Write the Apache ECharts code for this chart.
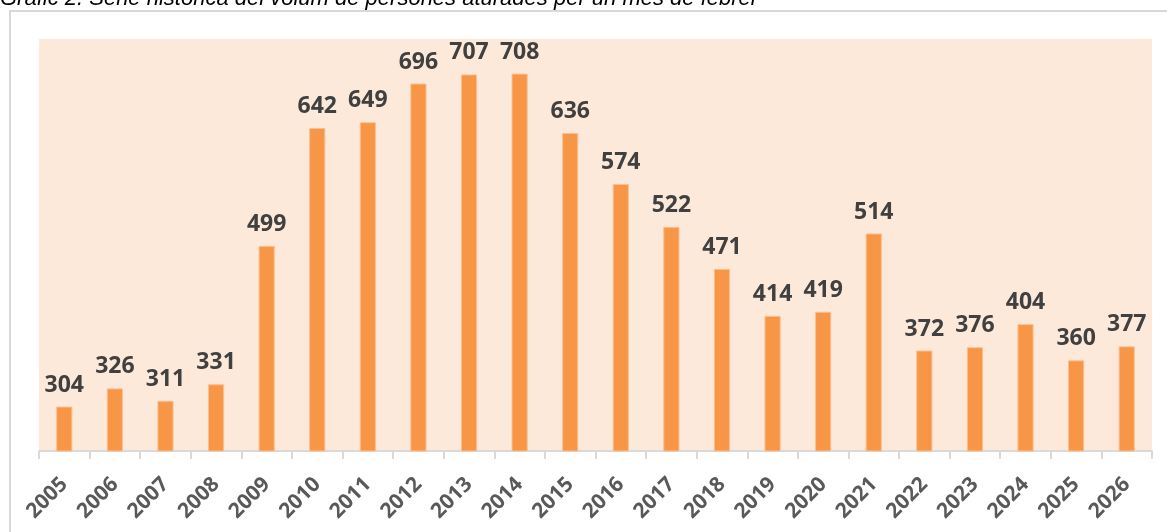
<!DOCTYPE html>
<html>
<head>
<meta charset="utf-8">
<script src="https://cdn.jsdelivr.net/npm/echarts@6/dist/echarts.min.js"></script>
<style>
  html, body { margin: 0; padding: 0; background: #fff; }
  #chart { width: 1167px; height: 532px; }
</style>
</head>
<body>
<div id="chart"></div>
<script>
const years = ['2005', '2006', '2007', '2008', '2009', '2010', '2011', '2012', '2013', '2014', '2015',
  '2016', '2017', '2018', '2019', '2020', '2021', '2022', '2023', '2024', '2025', '2026'];
const aturats = [304, 326, 311, 331, 499, 642, 649, 696, 707, 708, 636,
  574, 522, 471, 414, 419, 514, 372, 376, 404, 360, 377];

const chart = echarts.init(document.getElementById('chart'));

chart.setOption({
  animation: false,
  graphic: [
    {
      type: 'rect',
      shape: { x: 10, y: 11, width: 1180, height: 540 },
      style: { fill: 'none', stroke: '#d9d9d9', lineWidth: 2 },
      z: 0
    },
    {
      type: 'text',
      left: 0,
      top: -12,
      style: {
        text: 'Gràfic 2. Sèrie històrica del volum de persones aturades per un mes de febrer',
        font: 'italic 22px "Liberation Sans", Arial, sans-serif',
        fill: '#000'
      }
    }
  ],
  grid: {
    left: 39,
    right: 15,
    top: 39,
    bottom: 81,
    show: true,
    backgroundColor: '#fde9d9',
    borderWidth: 0
  },
  xAxis: {
    type: 'category',
    data: years,
    axisLine: { lineStyle: { color: '#d9d9d9', width: 2 } },
    axisTick: { show: true, length: 8, lineStyle: { color: '#d9d9d9', width: 2 } },
    axisLabel: {
      rotate: 45,
      interval: 0,
      margin: 30,
      color: '#595959',
      fontSize: 21,
      fontWeight: 'bold',
      fontFamily: '"Open Sans", sans-serif'
    }
  },
  yAxis: {
    type: 'value',
    min: 250,
    max: 750,
    show: false,
    splitLine: { show: false }
  },
  series: [{
    type: 'bar',
    data: aturats,
    barWidth: '32%',
    itemStyle: { color: '#f79646', borderColor: '#fac090', borderWidth: 1 },
    label: {
      show: true,
      position: 'top',
      distance: 10,
      color: '#404040',
      fontSize: 23,
      fontWeight: 'bold',
      fontFamily: '"Open Sans", sans-serif'
    }
  }]
});
</script>
</body>
</html>
